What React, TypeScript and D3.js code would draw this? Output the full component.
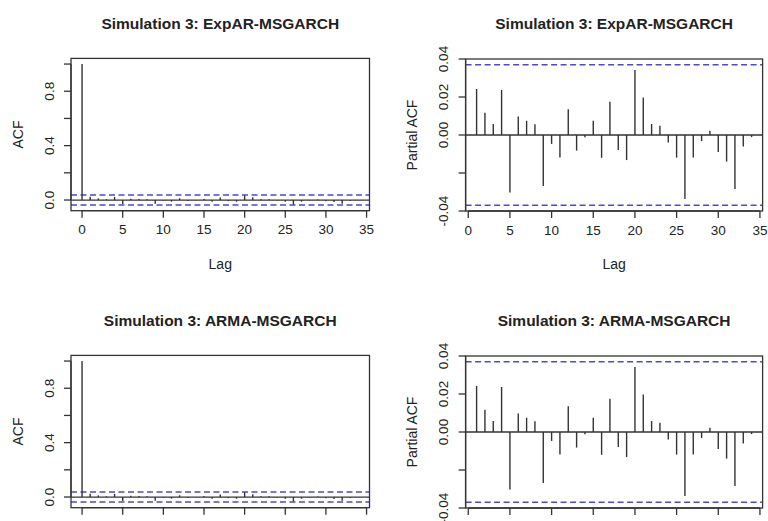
import React from "react";
import * as d3 from "d3";

const W = 768;
const H = 521;

const titlesTop = ["Simulation 3: ExpAR-MSGARCH", "Simulation 3: ExpAR-MSGARCH"];
const titlesBottom = ["Simulation 3: ARMA-MSGARCH", "Simulation 3: ARMA-MSGARCH"];

const xTicks = [0, 5, 10, 15, 20, 25, 30, 35];
const acfTicks = [0, 0.2, 0.4, 0.6, 0.8, 1.0];
const acfTickLabels = ["0.0", "", "0.4", "", "0.8", ""];
const pacfTicks = [-0.04, -0.02, 0, 0.02, 0.04];
const pacfTickLabels = ["-0.04", "", "0.00", "0.02", "0.04"];

const confLimit = 0.037;

// ACF, lags 0..34
const acfExpAR = [1, 0.024, 0.012, 0.006, 0.023, -0.03, 0.01, 0.007, 0.006, -0.027, -0.005, -0.012, 0.013, -0.008, -0.001, 0.008, -0.012, 0.018, -0.008, -0.013, 0.034, 0.02, 0.006, 0.005, -0.004, -0.012, -0.033, -0.012, -0.003, 0.003, -0.009, -0.014, -0.028, -0.006, -0.001];
const acfARMA = [1, 0.024, 0.012, 0.006, 0.023, -0.03, 0.01, 0.007, 0.006, -0.027, -0.005, -0.012, 0.013, -0.008, -0.001, 0.008, -0.012, 0.018, -0.008, -0.013, 0.034, 0.02, 0.006, 0.005, -0.004, -0.012, -0.033, -0.012, -0.003, 0.003, -0.009, -0.014, -0.028, -0.006, -0.001];

// PACF, lags 1..34
const pacfExpAR = [0.0242, 0.0117, 0.0058, 0.0237, -0.0302, 0.0098, 0.0075, 0.0056, -0.0268, -0.0047, -0.0118, 0.0135, -0.0082, -0.0012, 0.0075, -0.012, 0.0175, -0.0079, -0.0132, 0.0342, 0.0198, 0.0058, 0.0049, -0.0039, -0.0119, -0.0337, -0.0119, -0.0032, 0.0023, -0.0089, -0.014, -0.0284, -0.0061, -0.0011];
const pacfARMA = [0.0242, 0.0117, 0.0058, 0.0237, -0.0302, 0.0098, 0.0075, 0.0056, -0.0268, -0.0047, -0.0118, 0.0135, -0.0082, -0.0012, 0.0075, -0.012, 0.0175, -0.0079, -0.0132, 0.0342, 0.0198, 0.0058, 0.0049, -0.0039, -0.0119, -0.0337, -0.0119, -0.0032, 0.0023, -0.0089, -0.014, -0.0284, -0.0061, -0.0011];

const FONT = "'Liberation Sans', Arial, Helvetica, sans-serif";
const INK = "#333";
const BLUE = "#4a4ad0";

type PanelProps = {
  title: string;
  values: number[];
  firstLag: number;
  kind: "acf" | "pacf";
  dy: number;
  showX: boolean;
};

function Panel({ title, values, firstLag, kind, dy, showX }: PanelProps) {
  const isAcf = kind === "acf";
  const box = isAcf
    ? { x0: 71, x1: 369.5, y0: 58.4 + dy, y1: 210.7 + dy }
    : { x0: 465.6, x1: 762.6, y0: 59 + dy, y1: 211 + dy };
  const xDomain = isAcf ? [-1.36, 35.36] : [-0.32, 35.32];
  const yDomain = isAcf ? [-0.0785, 1.0415] : [-0.04, 0.04];
  const x = d3.scaleLinear().domain(xDomain).range([box.x0, box.x1]);
  const y = d3.scaleLinear().domain(yDomain).range([box.y1, box.y0]);
  const yTicks = isAcf ? acfTicks : pacfTicks;
  const yLabels = isAcf ? acfTickLabels : pacfTickLabels;
  const yLabelX = box.x0 - 22.3;
  const cx = (box.x0 + box.x1) / 2;
  const cy = (box.y0 + box.y1) / 2;
  const tickLen = 7;

  return (
    <g>
      <text x={cx} y={29 + dy} textAnchor="middle" fontFamily={FONT} fontWeight="bold" fontSize={15.5} fill="#222">
        {title}
      </text>
      <line x1={box.x0} x2={box.x1} y1={y(0)} y2={y(0)} stroke={INK} strokeWidth={1.3} />
      {[confLimit, -confLimit].map((c, i) => (
        <line key={i} x1={box.x0} x2={box.x1} y1={y(c)} y2={y(c)} stroke={BLUE} strokeWidth={1.4} strokeDasharray="6,3.5" />
      ))}
      {values.map((v, i) => (
        <line key={i} x1={x(i + firstLag)} x2={x(i + firstLag)} y1={y(0)} y2={y(v)} stroke={INK} strokeWidth={1.4} />
      ))}
      <rect x={box.x0} y={box.y0} width={box.x1 - box.x0} height={box.y1 - box.y0} fill="none" stroke={INK} strokeWidth={1.3} />
      <line x1={box.x0} x2={box.x0} y1={y(yTicks[0])} y2={y(yTicks[yTicks.length - 1])} stroke={INK} strokeWidth={1.3} />
      {yTicks.map((t, i) => (
        <g key={i}>
          <line x1={box.x0 - tickLen} x2={box.x0} y1={y(t)} y2={y(t)} stroke={INK} strokeWidth={1.3} />
          {yLabels[i] && (
            <text
              transform={`translate(${yLabelX},${y(t)}) rotate(-90)`}
              textAnchor="middle"
              dy="0.36em"
              fontFamily={FONT}
              fontSize={13.5}
              fill="#222"
            >
              {yLabels[i]}
            </text>
          )}
        </g>
      ))}
      <text
        transform={`translate(${isAcf ? 18 : 412},${cy}) rotate(-90)`}
        textAnchor="middle"
        dy="0.36em"
        fontFamily={FONT}
        fontSize={14}
        fill="#222"
      >
        {isAcf ? "ACF" : "Partial ACF"}
      </text>
      <line x1={x(0)} x2={x(35)} y1={box.y1} y2={box.y1} stroke={INK} strokeWidth={1.3} />
      {xTicks.map((t) => (
        <g key={t}>
          <line x1={x(t)} x2={x(t)} y1={box.y1} y2={box.y1 + tickLen} stroke={INK} strokeWidth={1.3} />
          {showX && (
            <text x={x(t)} y={box.y1 + 23.5} textAnchor="middle" fontFamily={FONT} fontSize={13.5} fill="#222">
              {t}
            </text>
          )}
        </g>
      ))}
      {showX && (
        <text x={cx} y={box.y1 + 58} textAnchor="middle" fontFamily={FONT} fontSize={14} fill="#222">
          Lag
        </text>
      )}
    </g>
  );
}

export default function App() {
  return (
    <svg width={W} height={H} style={{ position: "absolute", left: 0, top: 0, background: "#fff" }}>
      <rect width={W} height={H} fill="#fff" />
      <Panel title={titlesTop[0]} values={acfExpAR} firstLag={0} kind="acf" dy={0} showX={true} />
      <Panel title={titlesTop[1]} values={pacfExpAR} firstLag={1} kind="pacf" dy={0} showX={true} />
      <Panel title={titlesBottom[0]} values={acfARMA} firstLag={0} kind="acf" dy={297} showX={false} />
      <Panel title={titlesBottom[1]} values={pacfARMA} firstLag={1} kind="pacf" dy={297} showX={false} />
    </svg>
  );
}
